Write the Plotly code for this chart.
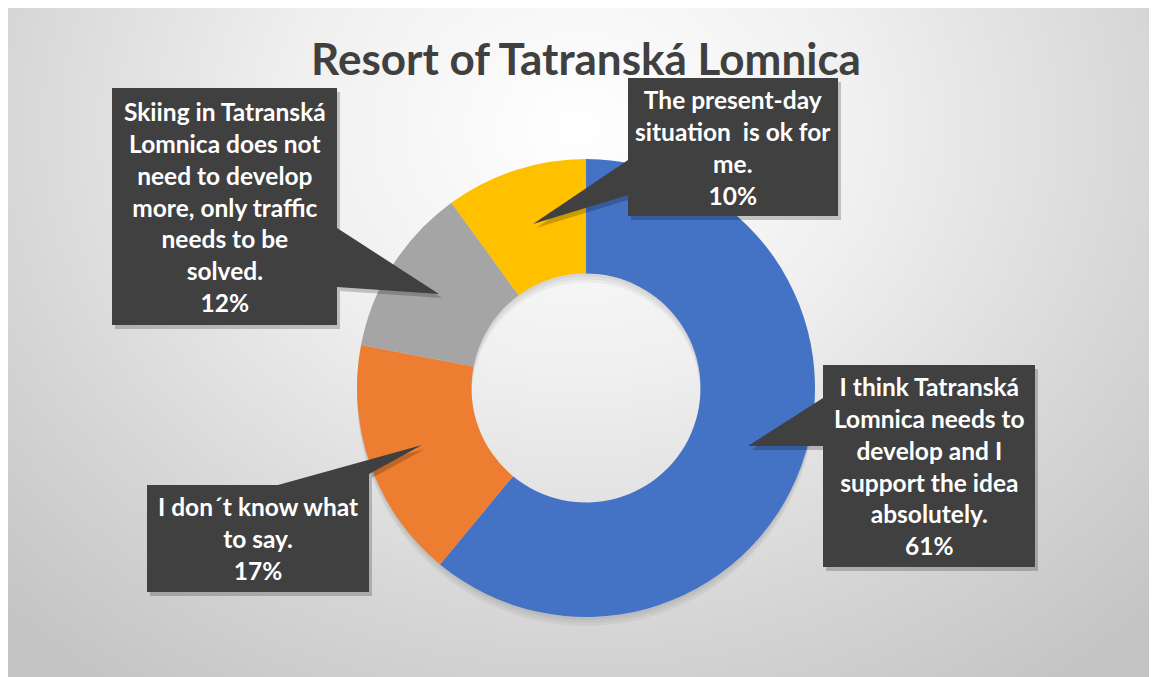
import plotly.graph_objects as go

# survey answers, clockwise from 12 o'clock
answers = [
    "I think Tatranská<br>Lomnica needs to<br>develop and I<br>support the idea<br>absolutely.",
    "I don´t know what<br>to say.",
    "Skiing in Tatranská<br>Lomnica does not<br>need to develop<br>more, only traffic<br>needs to be<br>solved.",
    "The present-day<br>situation  is ok for<br>me.",
]
shares = [61, 17, 12, 10]
slice_colors = ["#4472C4", "#ED7D31", "#A5A5A5", "#FFC000"]
chart_title = "Resort of Tatranská Lomnica"

# page body has an 8px margin, so the figure is 8px smaller than the window
OFF = 8
W, H = 1157 - OFF, 677 - OFF
CX, CY, R = 586 - OFF, 388 - OFF, 229  # donut centre / radius in figure px

# callout boxes (x0, y0, x1, y1) and pointer polygons, in window px
callouts = [
    dict(box=(823, 365, 1035, 567), ptr=[(823, 398), (748, 446), (823, 446)]),
    dict(box=(147, 485, 369, 592), ptr=[(278, 485), (422, 445), (369, 474), (369, 485)]),
    dict(box=(112, 88, 337, 325), ptr=[(337, 228), (439, 294), (337, 287)]),
    dict(box=(628, 78, 838, 216), ptr=[(628, 160), (533, 224), (628, 195)]),
]

fig = go.Figure()

# background with radial gradient (axes in pixel units)
fig.add_trace(go.Scatter(
    x=[-240, 1380, 1380, -240, -240],
    y=[-570, -570, 810, 810, -570],
    mode="lines", fill="toself", line=dict(width=0),
    fillgradient=dict(type="radial", colorscale=[
        [0, "#ffffff"], [0.35, "#f0f0f0"], [0.75, "#d4d4d4"], [1, "#c4c4c4"]]),
    hoverinfo="skip", showlegend=False,
))

dom_x = [(CX - R) / W, (CX + R) / W]
dom_y = [1 - (CY + R) / H, 1 - (CY - R) / H]

# blurred-looking shadow under the ring
for k in (3, 6, 9):
    fig.add_trace(go.Pie(
        values=shares, hole=0.5, sort=False, direction="clockwise",
        marker=dict(colors=["rgba(0,0,0,0.045)"] * len(shares), line=dict(width=0)),
        textinfo="none", hoverinfo="skip", showlegend=False,
        domain=dict(x=dom_x, y=[dom_y[0] - k / H, dom_y[1] - k / H]),
    ))
fig.add_trace(go.Pie(
    labels=[a.replace("<br>", " ") for a in answers], values=shares,
    hole=0.5, sort=False, direction="clockwise",
    marker=dict(colors=slice_colors, line=dict(width=0)),
    textinfo="none", showlegend=False,
    domain=dict(x=dom_x, y=dom_y),
))


def path_of(pts, dx=0, dy=0):
    return "M " + " L ".join(f"{x - OFF + dx},{y - OFF + dy}" for x, y in pts) + " Z"


shapes = []
annotations = []
total = sum(shares)
for c, text, val in zip(callouts, answers, shares):
    x0, y0, x1, y1 = c["box"]
    box_pts = [(x0, y0), (x1, y0), (x1, y1), (x0, y1)]
    for pts in (box_pts, c["ptr"]):
        shapes.append(dict(type="path", xref="x", yref="y", path=path_of(pts, 3, 4),
                           fillcolor="rgba(0,0,0,0.2)", line=dict(width=0), layer="above"))
    for pts in (box_pts, c["ptr"]):
        shapes.append(dict(type="path", xref="x", yref="y", path=path_of(pts),
                           fillcolor="#404040", line=dict(width=0), layer="above"))
    annotations.append(dict(
        x=(x0 + x1) / 2 - OFF, y=(y0 + y1) / 2 - OFF, xref="x", yref="y",
        text=f"{text}<br>{round(val / total * 100)}%", showarrow=False,
        font=dict(family="Lato", size=24.5, color="white", weight="bold"),
        align="center", xanchor="center", yanchor="middle",
    ))

fig.update_layout(
    width=W, height=H,
    margin=dict(l=0, r=0, t=0, b=0),
    paper_bgcolor="white",
    plot_bgcolor="#d0d0d0",
    title=dict(text=chart_title, x=(586 - OFF) / W, xanchor="center",
               y=1 - (60 - OFF) / H, yanchor="middle",
               font=dict(family="Lato", size=44, color="#404040", weight="bold")),
    xaxis=dict(domain=[0, 1], range=[0, W], visible=False, fixedrange=True),
    yaxis=dict(domain=[0, 1], range=[H, 0], visible=False, fixedrange=True),
    shapes=shapes,
    annotations=annotations,
)

fig.write_html("out.html")
